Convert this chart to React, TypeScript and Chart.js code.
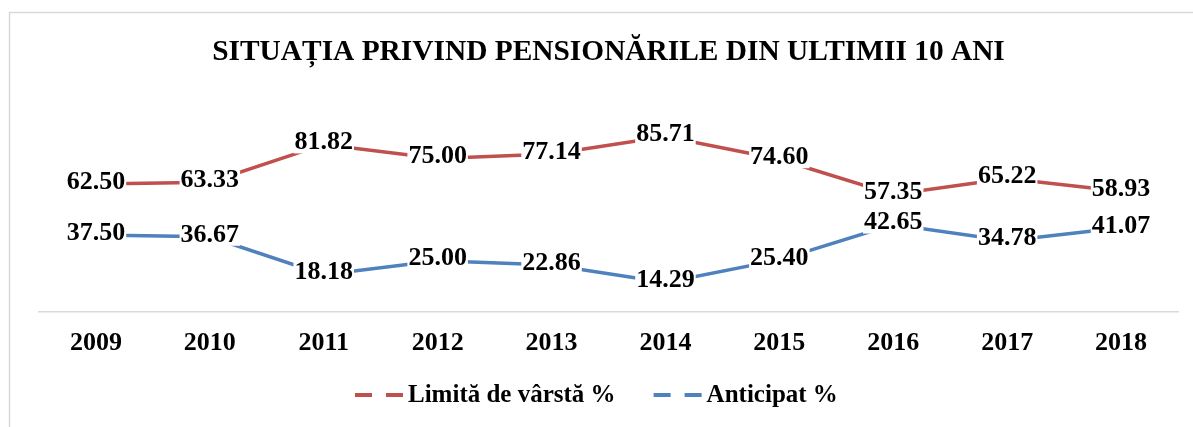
import React, { useEffect, useRef } from "react";
import { Chart, registerables } from "chart.js";

Chart.register(...registerables);

const years = ["2009", "2010", "2011", "2012", "2013", "2014", "2015", "2016", "2017", "2018"];
const limitaVarsta = [62.5, 63.33, 81.82, 75.0, 77.14, 85.71, 74.6, 57.35, 65.22, 58.93];
const anticipat = [37.5, 36.67, 18.18, 25.0, 22.86, 14.29, 25.4, 42.65, 34.78, 41.07];
const seriesNames = ["Limită de vârstă %", "Anticipat %"];
const titleText = "SITUAȚIA PRIVIND PENSIONĂRILE DIN ULTIMII 10 ANI";

const RED = "#C0504D";
const BLUE = "#4F81BD";
const FONT = "'Liberation Serif', 'Times New Roman', serif";

const framePlugin = {
  id: "frame",
  beforeDraw(chart: any) {
    const ctx = chart.ctx;
    ctx.save();
    ctx.fillStyle = "#ffffff";
    ctx.fillRect(0, 0, chart.width, chart.height);
    ctx.strokeStyle = "#d9d9d9";
    ctx.lineWidth = 1.5;
    ctx.strokeRect(9.5, 12.5, chart.width + 20, chart.height + 20);
    ctx.restore();
  },
};

const labelPlugin = {
  id: "valueLabels",
  afterDatasetsDraw(chart: any) {
    const ctx = chart.ctx;
    ctx.save();
    ctx.font = `bold 26px ${FONT}`;
    ctx.textAlign = "center";
    ctx.textBaseline = "middle";
    chart.data.datasets.forEach((ds: any, di: number) => {
      const meta = chart.getDatasetMeta(di);
      meta.data.forEach((pt: any, i: number) => {
        const txt = Number(ds.data[i]).toFixed(2);
        const w = ctx.measureText(txt).width;
        const cy = pt.y - 2;
        ctx.fillStyle = "#ffffff";
        ctx.fillRect(pt.x - w / 2 - 1, cy - 10, w + 2, 21);
        ctx.fillStyle = "#000000";
        ctx.fillText(txt, pt.x, cy);
      });
    });
    ctx.restore();
  },
};

const legendPlugin = {
  id: "customLegend",
  afterDraw(chart: any) {
    const ctx = chart.ctx;
    ctx.save();
    ctx.font = `bold 25px ${FONT}`;
    ctx.textBaseline = "middle";
    ctx.textAlign = "left";
    const iconW = 48;
    const iconGap = 5;
    const itemGap = 38;
    const items = chart.data.datasets.map((ds: any) => ({
      text: ds.label,
      color: ds.borderColor,
      w: iconW + iconGap + ctx.measureText(ds.label).width,
    }));
    let x = 355;
    const y = 395;
    items.forEach((it: any) => {
      ctx.fillStyle = it.color;
      ctx.fillRect(x, y - 2, 17, 4);
      ctx.fillRect(x + 31, y - 2, 17, 4);
      ctx.fillStyle = "#000000";
      ctx.fillText(it.text, x + iconW + iconGap, y + 1);
      x += it.w + itemGap;
    });
    ctx.restore();
  },
};

export default function App() {
  const ref = useRef<HTMLCanvasElement | null>(null);
  useEffect(() => {
    if (!ref.current) return;
    const chart = new Chart(ref.current, {
      type: "line",
      data: {
        labels: years,
        datasets: [
          {
            label: seriesNames[0],
            data: limitaVarsta,
            borderColor: RED,
            backgroundColor: RED,
            borderWidth: 3.5,
            pointRadius: 0,
            tension: 0,
          },
          {
            label: seriesNames[1],
            data: anticipat,
            borderColor: BLUE,
            backgroundColor: BLUE,
            borderWidth: 3.5,
            pointRadius: 0,
            tension: 0,
          },
        ],
      },
      options: {
        animation: false,
        responsive: false,
        devicePixelRatio: 1,
        layout: { padding: { left: 39, right: 15, top: 20, bottom: 60 } },
        plugins: {
          tooltip: { enabled: false },
          legend: { display: false },
          title: {
            display: true,
            text: titleText,
            color: "#000000",
            font: { family: FONT, size: 29.4, weight: "bold" },
            padding: { top: 15, bottom: 37 },
          },
        },
        scales: {
          x: {
            offset: true,
            grid: { display: false },
            border: { display: true, color: "#d9d9d9", width: 1.5 },
            ticks: {
              color: "#000000",
              font: { family: FONT, size: 26, weight: "bold" },
              padding: 8,
              maxRotation: 0,
            },
          },
          y: {
            display: false,
            min: 0,
            max: 100,
          },
        },
      },
      plugins: [framePlugin, labelPlugin, legendPlugin],
    });
    return () => chart.destroy();
  }, []);
  return (
    <div style={{ position: "absolute", left: 0, top: 0, width: 1193, height: 427 }}>
      <canvas ref={ref} width={1193} height={427} style={{ width: 1193, height: 427 }} />
    </div>
  );
}
